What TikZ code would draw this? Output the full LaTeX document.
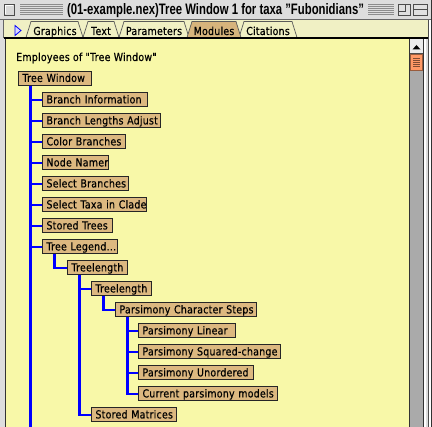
\documentclass[tikz,border=0pt]{standalone}
\usepackage{fontspec}
\setmainfont{Liberation Sans}
\newfontfamily\genfont[FakeStretch=0.86,FakeBold=0.5,LetterSpace=2]{DejaVu Sans}
\definecolor{content}{RGB}{248,248,168}
\definecolor{tabbar}{RGB}{240,240,196}
\definecolor{boxfill}{RGB}{220,184,128}
\definecolor{tabsel}{RGB}{214,180,124}
\definecolor{titlegrey}{RGB}{221,221,221}
\definecolor{scrollgrey}{RGB}{170,170,170}
\definecolor{thumb}{RGB}{255,153,102}
\definecolor{linkblue}{RGB}{0,0,255}
\newcommand{\nb}[1]{\mbox{#1}}
\tikzset{
  txt/.style={font=\genfont\fontsize{11}{12}\selectfont, inner sep=0pt},
  module/.style={txt, draw=black!85, line width=1pt, fill=boxfill, anchor=west,
    minimum height=14pt, inner xsep=4pt, inner ysep=0pt, align=left,
    text height=8.4pt, text depth=1.6pt},
  conn/.style={draw=linkblue, line width=2.6pt},
  tabshape/.style={draw=black!65, line width=0.7pt, fill=tabbar},
  tablabel/.style={txt, anchor=base},
  stripe/.style={draw=black!45, line width=0.8pt},
}
\begin{document}
\begin{tikzpicture}[x=1pt,y=-1pt]
\useasboundingbox (0,0) rectangle (432,427);
% window frame and title bar
\fill[titlegrey] (0,0) rectangle (432,427);
\draw[black!60, line width=1pt] (0,19.5) -- (432,19.5);
\draw[black!70, fill=black!15] (4,4) rectangle (14,15);
\draw[white, line width=0.8pt] (5,14) -- (5,5) -- (13,5);
\foreach \y in {4.5,6.5,...,14.5} {
  \draw[stripe] (20,\y) -- (63,\y);
  \draw[stripe] (368,\y) -- (394,\y);
}
\node[anchor=base, inner sep=0pt] (title) at (215.5,15)
  {\resizebox{297pt}{11pt}{\bfseries (01-example.nex)Tree Window 1 for taxa "Fubonidians"}};
\draw[black!70, fill=black!12] (398,4) rectangle (410,15);
\draw[black!70] (398,11) -- (405,11) -- (405,4);
\draw[black!70, fill=black!12] (413,4) rectangle (427,15);
\draw[black!70] (413,9.5) -- (427,9.5);
% tab bar
\fill[tabbar] (3,20) rectangle (428,38);
\draw[black!60, line width=0.8pt] (3.4,20) -- (3.4,38);
\fill[draw=blue, line width=0.8pt, fill=blue!15] (15,25.5) -- (21,30.5) -- (15,35.5) -- cycle;
\draw[tabshape] (26,37.5) -- (31,21.5) -- (78,21.5) -- (83,37.5);
\draw[tabshape] (83,37.5) -- (88,21.5) -- (114,21.5) -- (119,37.5);
\draw[tabshape] (119,37.5) -- (124,21.5) -- (184,21.5) -- (189,37.5);
\draw[tabshape] (239,37.5) -- (244,21.5) -- (292,21.5) -- (297,37.5);
\draw[tabshape, fill=tabsel] (187,37.5) -- (192,21.5) -- (236,21.5) -- (241,37.5);
\node[tablabel] (tgraphics) at (55,35) {Graphics};
\node[tablabel] (ttext) at (101,35) {Text};
\node[tablabel] (tparam) at (154,35) {Parameters};
\node[tablabel] (tmodules) at (214,35) {Modules};
\node[tablabel] (tcit) at (268,35) {Citations};
% content area
\fill[black] (4,37.5) rectangle (429,39.5);
\fill[content] (6,39.5) rectangle (409,427);
\fill[black!80] (4.5,39.5) rectangle (6,427);
% scrollbar
\fill[black!80] (409,39.5) rectangle (410,427);
\fill[scrollgrey] (410,39.5) rectangle (423,427);
\fill[black!80] (423,39.5) rectangle (424,427);
\fill[white] (424,39.5) rectangle (425.5,427);
\fill[black!70] (427.5,20) rectangle (429,427);
\fill[white] (429,20) rectangle (430.5,427);
\fill[black!80] (431,0) rectangle (432,427);
\fill[black!8] (410,39.5) rectangle (423,53);
\draw[black!70, line width=0.8pt] (410,53.5) -- (423,53.5);
\fill[black] (412.5,49.5) -- (420.5,49.5) -- (416.5,45) -- cycle;
\fill[thumb, draw=thumb!60!black, line width=0.7pt] (410.3,54.3) rectangle (422.7,70);
\foreach \y in {58,60,...,66} \draw[thumb!50!black, line width=0.7pt] (413,\y) -- (420,\y);
% heading
\node[txt, anchor=base west] (heading) at (16,61) {Employees of "Tree Window"};
% modules
\node[module, text width=65pt]  (tw)  at (18,78.5) {\nb{Tree Window}};
\node[module, text width=97pt]  (bi)  at (42,100) {\nb{Branch Information}};
\node[module, text width=110pt] (bla) at (42,121) {\nb{Branch Lengths Adjust}};
\node[module, text width=75pt]  (cb)  at (42,142) {\nb{Color Branches}};
\node[module, text width=58pt]  (nn)  at (42,163) {\nb{Node Namer}};
\node[module, text width=78pt]  (sb)  at (42,184) {\nb{Select Branches}};
\node[module, text width=96pt]  (st)  at (42,205) {\nb{Select Taxa in Clade}};
\node[module, text width=62pt]  (str) at (42,226) {\nb{Stored Trees}};
\node[module, text width=67pt]  (tl)  at (42,247) {\nb{Tree Legend...}};
\node[module, text width=52pt]  (t1)  at (67,268) {\nb{Treelength}};
\node[module, text width=52pt]  (t2)  at (91,289) {\nb{Treelength}};
\node[module, text width=133pt] (pcs) at (115,310) {\nb{Parsimony Character Steps}};
\node[module, text width=89pt]  (pl)  at (138,331) {\nb{Parsimony Linear}};
\node[module, text width=134pt] (psq) at (138,352) {\nb{Parsimony Squared-change}};
\node[module, text width=107pt] (pu)  at (138,373) {\nb{Parsimony Unordered}};
\node[module, text width=131pt] (cpm) at (138,394) {\nb{Current parsimony models}};
\node[module, text width=77pt]  (sm)  at (91,415) {\nb{Stored Matrices}};
% connectors
\coordinate (bottomend) at (0,427);
\coordinate (v0) at ([xshift=12.5pt]tw.south west);
\coordinate (v1) at ([xshift=12.5pt]tl.south west);
\coordinate (v2) at ([xshift=12.5pt]t1.south west);
\coordinate (v3) at ([xshift=12.5pt]t2.south west);
\coordinate (v4) at ([xshift=12.5pt]pcs.south west);
\draw[conn] (v0) -- (v0 |- bottomend);
\foreach \c in {bi,bla,cb,nn,sb,st,str,tl} \draw[conn] (v0) |- (\c.west);
\draw[conn] (v1) |- (t1.west);
\foreach \c in {t2,sm} \draw[conn] (v2) |- (\c.west);
\draw[conn] (v3) |- (pcs.west);
\foreach \c in {pl,psq,pu,cpm} \draw[conn] (v4) |- (\c.west);
\end{tikzpicture}
\end{document}
